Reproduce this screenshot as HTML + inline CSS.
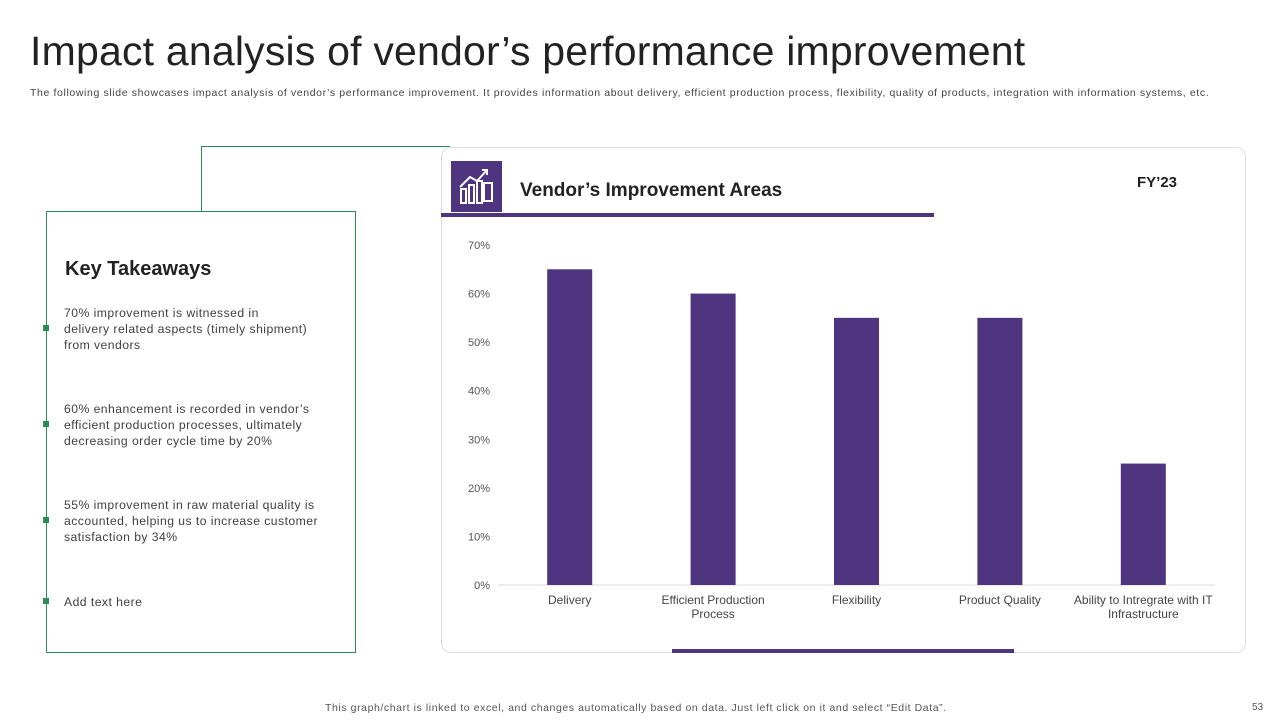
<!DOCTYPE html>
<html><head><meta charset="utf-8"><style>
body{margin:0;width:1280px;height:720px;background:#fff;font-family:"Liberation Sans",sans-serif;position:relative;overflow:hidden;color:#333}
.a{position:absolute}
.t{font-size:12.2px;color:#404040;line-height:16px;white-space:nowrap;letter-spacing:0.45px}
.dot{position:absolute;left:43px;width:6px;height:6px;background:#2e8b57}
</style></head><body>
<div class="a" style="left:30px;top:28px;font-size:41px;color:#222;letter-spacing:0.2px">Impact analysis of vendor’s performance improvement</div>
<div class="a" style="left:30px;top:87px;font-size:10.5px;color:#444;letter-spacing:0.62px;white-space:nowrap">The following slide showcases impact analysis of vendor’s performance improvement. It provides information about delivery, efficient production process, flexibility, quality of products, integration with information systems, etc.</div>
<div class="a" style="left:201px;top:146px;width:248px;height:65px;border-left:1px solid #2e8b57;border-top:1px solid #2e8b57"></div>
<div class="a" style="left:46px;top:211px;width:308px;height:440px;border:1px solid #2e8b57;background:#fff"></div>
<div class="a" style="left:65px;top:258px;font-size:20px;font-weight:bold;color:#222">Key Takeaways</div>
<div class="dot" style="top:325px"></div>
<div class="a t" style="left:64px;top:305px">70% improvement  is witnessed in<br>delivery related aspects (timely shipment)<br>from vendors</div>
<div class="dot" style="top:421px"></div>
<div class="a t" style="left:64px;top:401px">60% enhancement is recorded in vendor’s<br>efficient production processes, ultimately<br>decreasing order cycle time by 20%</div>
<div class="dot" style="top:517px"></div>
<div class="a t" style="left:64px;top:497px">55% improvement  in raw material quality is<br>accounted, helping us to increase customer<br>satisfaction by 34%</div>
<div class="dot" style="top:598px"></div>
<div class="a t" style="left:64px;top:594px">Add text here</div>
<div class="a" style="left:441px;top:147px;width:803px;height:504px;border:1px solid #ddd;border-radius:10px"></div>
<div class="a" style="left:451px;top:161px;width:51px;height:51px;background:#4f3480">
<svg width="51" height="51"><g stroke="#fff" fill="none" stroke-width="2"><rect x="10" y="28" width="5" height="14"/><rect x="18" y="24" width="5" height="18"/><rect x="26" y="20" width="5" height="22"/><path d="M9 26 L19 16 L26 20 L36 9"/><path d="M31 9 L36 9 L36 14"/><rect x="33" y="22" width="8" height="18"/></g></svg></div>
<div class="a" style="left:520px;top:180px;font-size:19px;font-weight:bold;color:#222">Vendor’s Improvement Areas</div>
<div class="a" style="left:441px;top:213px;width:493px;height:4px;background:#4f3480"></div>
<div class="a" style="left:1137px;top:174px;font-size:15px;font-weight:bold;color:#222">FY’23</div>
<div class="a" style="left:672px;top:649px;width:342px;height:4px;background:#4f3480"></div>
<svg class="a" style="left:0;top:0" width="1280" height="720" id="chart"></svg>
<div class="a" style="left:325px;top:702px;font-size:10.5px;color:#555;letter-spacing:0.58px;white-space:nowrap">This graph/chart is linked to excel,  and changes automatically based on data. Just left click on it and select “Edit Data”.</div>
<div class="a" style="left:1252px;top:702px;font-size:10px;color:#555">53</div>
<script>
const categories=[["Delivery"],["Efficient Production","Process"],["Flexibility"],["Product Quality"],["Ability to Intregrate with IT","Infrastructure"]];
const values=[65,60,55,55,25];
const ticks=[0,10,20,30,40,50,60,70];
const svg=document.getElementById('chart');const NS='http://www.w3.org/2000/svg';
const x0=498,x1=1215,y0=585,y1=245,maxV=70;
const y=v=>y0-(v/maxV)*(y0-y1);
const bw=(x1-x0)/categories.length;
const xc=i=>x0+bw*(i+0.5);
function mk(t,a){const e=document.createElementNS(NS,t);for(const k in a)e.setAttribute(k,a[k]);svg.appendChild(e);return e;}
ticks.forEach(v=>{const e=mk('text',{x:490,y:y(v)+4,'text-anchor':'end','font-size':11,fill:'#555','font-family':'Liberation Sans'});e.textContent=v+'%';

});
const ax=mk('line',{x1:x0,x2:x1,y1:y0,y2:y0,stroke:'#d9d9d9'});


values.forEach((v,i)=>{const r=mk('rect',{x:xc(i)-22.5,y:y(v),width:45,height:y0-y(v),fill:'#4f3480'});


categories[i].forEach((l,j)=>{const t=mk('text',{x:xc(i),y:604+j*14,'text-anchor':'middle','font-size':12,fill:'#444','font-family':'Liberation Sans'});t.textContent=l;

});});
</script>
</body></html>
